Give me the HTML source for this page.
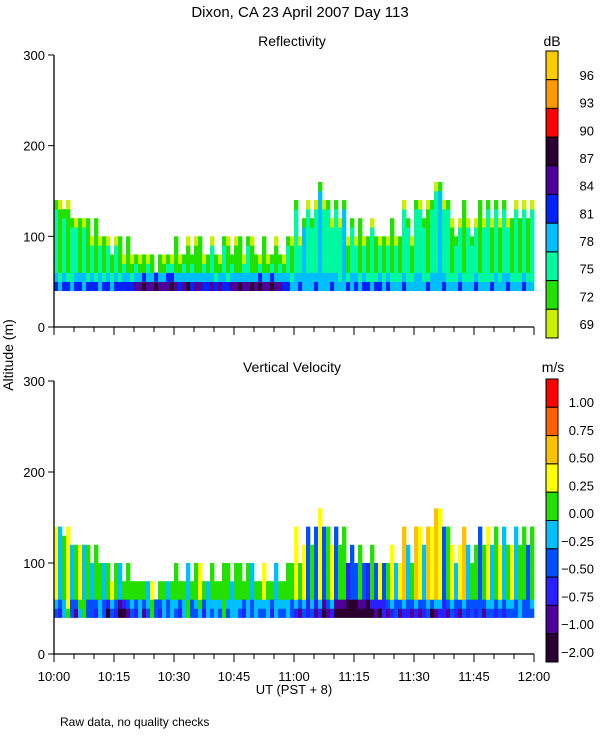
<!DOCTYPE html>
<html><head><meta charset="utf-8"><style>
body{margin:0;background:#fff;}
svg{display:block;font-family:"Liberation Sans",sans-serif;}
</style></head><body>
<svg id="fig" width="600" height="750" viewBox="0 0 600 750">
<text x="300" y="17" text-anchor="middle" font-size="15">Dixon, CA 23 April 2007  Day 113</text>
<text x="292" y="46" text-anchor="middle" font-size="14">Reflectivity</text>
<text x="292" y="372" text-anchor="middle" font-size="14">Vertical Velocity</text>
<text x="0" y="0" transform="translate(13,355) rotate(-90)" text-anchor="middle" font-size="14">Altitude (m)</text>
<text x="294" y="694" text-anchor="middle" font-size="13">UT  (PST + 8)</text>
<text x="60" y="726" font-size="12">Raw data, no quality checks</text>
<text x="552" y="46" text-anchor="middle" font-size="14">dB</text>
<text x="553" y="372" text-anchor="middle" font-size="14">m/s</text>
<g id="g1"></g>
<g id="g2"></g>
</svg>
<script>
const tops=[140,140,130,140,120,120,120,120,120,100,120,100,100,100,80,100,100,80,100,80,
80,80,80,80,80,60,80,80,80,80,100,80,80,100,80,100,100,80,80,100,80,80,100,100,80,
100,100,80,100,100,80,80,100,80,80,100,80,80,100,100,
140,100,120,140,120,140,160,140,140,120,140,120,140,100,120,
100,120,100,100,120,100,100,100,100,120,100,100,140,120,100,
140,140,120,140,140,160,160,140,140,120,100,120,140,120,100,
120,140,120,140,120,140,120,140,120,120,140,120,140,120,140];
const reflLow=[81,80,82,81,80,81,82,80,81,82,81,80,82,81,80,82,81,83,82,81,
85,86,88,84,86,87,85,84,86,88,84,82,85,87,83,84,86,82,83,85,82,84,83,82,84,
86,87,85,86,88,84,87,86,85,88,86,84,82,81,80,
80,81,80,79,80,81,80,79,80,81,80,79,80,81,80,
81,80,82,81,80,81,82,80,81,80,79,80,81,80,79,
80,79,80,81,80,79,80,81,80,79,80,81,80,79,80,
81,80,79,80,81,80,79,80,81,80,79,80,81,80,79];
const reflHigh=[77,74,76,73,75,77,74,76,73,75,74,76,73,75,74,76,73,75,74,73,
75,73,74,76,73,75,74,73,76,75,73,74,76,73,75,74,73,76,74,75,73,74,76,73,75,
74,73,76,75,73,74,76,73,74,75,73,76,74,75,73,
77,76,78,77,76,77,78,77,76,75,77,76,78,74,76,
75,73,76,74,75,73,76,74,75,73,76,74,77,75,74,
76,77,75,74,76,77,78,76,75,74,75,76,74,76,75,
77,74,76,75,73,76,74,77,75,74,76,73,75,74,76];
const velLow=[-0.3,-0.6,-0.1,0.2,-0.4,-0.8,-0.2,0.1,-0.5,-0.3,-0.7,-0.1,-0.4,-1.2,-0.3,-0.6,-1.5,-1.3,-0.8,-0.4,
-0.6,-0.2,-0.9,-0.3,0.1,-0.5,-0.7,-0.2,-0.4,-0.1,-0.3,-0.6,-0.2,0.1,-0.5,-0.3,-0.2,-0.6,-0.1,-0.4,-0.2,-0.3,0.1,-0.4,-0.2,
-0.1,-0.3,-0.6,-0.2,-0.4,-0.1,-0.3,-0.5,-0.2,-0.6,-0.1,-0.3,-0.4,-0.2,-0.5,
-0.6,-0.8,-0.4,-0.7,-0.5,-0.9,-0.6,-1.2,-0.8,-0.6,-1.1,-1.5,-1.3,-1.6,-1.8,
-1.4,-1.7,-1.2,-1.5,-1.1,-0.9,-1.3,-0.7,-0.8,-0.6,-0.5,-0.9,-0.7,-0.6,-0.8,
-0.6,-0.9,-0.7,-0.5,-1.1,-0.8,-0.6,-0.7,-0.9,-0.5,-0.6,-0.8,-0.4,-0.7,-0.5,
-0.6,-0.4,-0.8,-0.5,-0.3,-0.7,-0.4,-0.6,-0.3,-0.5,-0.4,-0.2,-0.5,-0.3,-0.4];
const velHigh=[0.3,-0.1,0.1,0.4,-0.2,0.0,0.3,-0.1,0.1,-0.2,0.2,0.0,-0.1,0.1,0.3,0.0,-0.2,0.1,0.0,0.2,
0.1,0.0,0.1,-0.1,0.3,0.0,0.1,0.2,-0.1,0.1,0.0,0.2,0.1,-0.1,0.0,0.1,0.3,0.0,-0.2,0.1,0.0,0.1,0.2,0.0,-0.1,
0.1,0.0,0.2,0.1,-0.1,0.0,0.1,0.3,0.0,0.1,-0.1,0.2,0.0,0.1,0.0,
0.3,0.1,0.4,-0.3,0.2,-0.4,0.3,-0.5,0.1,0.4,-0.3,0.2,0.0,-0.6,-0.4,
-0.5,0.1,-0.3,-0.6,0.2,-0.4,0.3,-0.5,0.1,0.4,-0.2,0.3,0.5,-0.1,0.2,
0.6,0.3,-0.2,0.5,0.4,0.7,0.3,-0.3,0.2,0.4,-0.1,0.3,0.5,-0.2,0.1,
0.2,-0.3,0.1,0.3,-0.1,0.2,0.4,-0.2,0.0,0.3,-0.1,0.2,0.1,-0.3,0.2];
const reflEdges=[69,72,75,78,81,84,87,90,93,96,99];
const reflColors=['#c8f000','#22e000','#00f8a0','#00bfff','#0022ff','#50009a','#2a0030','#ff0000','#ff9900','#ffcc00'];
const reflLabels=['96','93','90','87','84','81','78','75','72','69'];
const velEdges=[-2,-1,-0.75,-0.5,-0.25,0,0.25,0.5,0.75,1,1.25];
const velColors=['#2a0030','#50009a','#2a20ff','#0050ff','#00bfff','#22e000','#ffff00','#ffc000','#ff6000','#ff0000'];
const velLabels=['1.00','0.75','0.50','0.25','0.00','\u22120.25','\u22120.50','\u22120.75','\u22121.00','\u22122.00'];
const timeLabels=['10:00','10:15','10:30','10:45','11:00','11:15','11:30','11:45','12:00'];
const altTicks=[0,100,200,300];

const NS='http://www.w3.org/2000/svg';
function mk(p,t,a){const e=document.createElementNS(NS,t);for(const k in a)e.setAttribute(k,a[k]);p.appendChild(e);return e;}
const X0=54,X1=534;
const xs=m=>X0+(X1-X0)*m/120;
function colorFor(v,edges,cols){for(let i=0;i<cols.length;i++){if(v<edges[i+1])return cols[i];}return cols[cols.length-1];}

function panel(g,yTop,yBot,lo,hi,edges,cols,labels,barTop,barBot,labTop,labBot,showX,isRefl){
  const ys=a=>yBot-(yBot-yTop)*a/300;
  for(let i=0;i<tops.length;i++){
    for(let a=40;a<tops[i];a+=10){
      let v;
      if(a<50) v=lo[i];
      else if(a<60) v=isRefl?(lo[i]+hi[i])/2:lo[i]*0.6+hi[i]*0.4;
      else v=hi[i];
      if(isRefl&&a+10>=tops[i]&&a>=70)v=Math.min(v,(i%2)?71:73);
      const r=mk(g,'rect',{x:xs(i),y:ys(a+10),width:xs(i+1)-xs(i)+0.3,height:ys(a)-ys(a+10)+0.3,fill:colorFor(v,edges,cols)});
      
      
    }
  }
  const ax=mk(g,'path',{d:`M${X0},${yTop}V${yBot}H${X1}`,stroke:'#000',fill:'none','stroke-width':1.3});
  
  
  altTicks.forEach(a=>{
    mk(g,'line',{x1:X0-6,x2:X0,y1:ys(a),y2:ys(a),stroke:'#000'});
    const t=mk(g,'text',{x:X0-9,y:ys(a)+5,'text-anchor':'end','font-size':13});
    t.textContent=a;
    
    
  });
  for(let m=0;m<=120;m+=5){
    const L=m%15===0?8:5;
    mk(g,'line',{x1:xs(m),x2:xs(m),y1:yBot,y2:yBot+L,stroke:'#000'});
  }
  if(showX){timeLabels.forEach((s,i)=>{
    const t=mk(g,'text',{x:xs(i*15),y:yBot+27,'text-anchor':'middle','font-size':13});
    t.textContent=s;
    
    
  });}
  const n=cols.length,h=(barBot-barTop)/n;
  for(let i=0;i<n;i++){
    const r=mk(g,'rect',{x:546,y:barTop+i*h,width:12,height:h,fill:cols[n-1-i],stroke:'#000','stroke-width':1});
    
    
  }
  labels.forEach((s,i)=>{
    const t=mk(g,'text',{x:594,y:labTop+(labBot-labTop)*i/(labels.length-1)+5,'text-anchor':'end','font-size':13});
    t.textContent=s;
    
    
  });
}
panel(document.getElementById('g1'),55,327,reflLow,reflHigh,reflEdges,reflColors,reflLabels,51,338,75,324,false,true);
panel(document.getElementById('g2'),381,654,velLow,velHigh,velEdges,velColors,velLabels,379,662,402,652,true,false);
</script>
</body></html>
